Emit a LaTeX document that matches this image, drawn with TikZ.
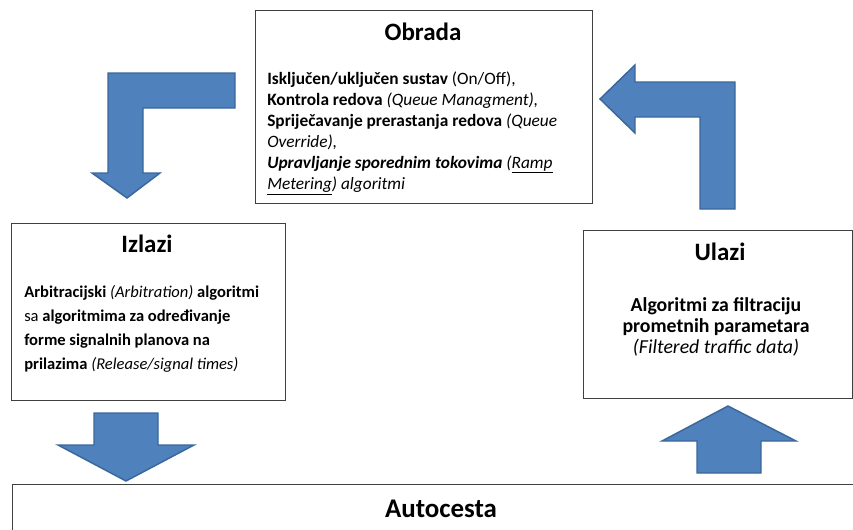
\documentclass[tikz,border=0pt]{standalone}
\usepackage{fontspec}
\setmainfont{Carlito}
\usetikzlibrary{positioning}

\definecolor{arrowblue}{HTML}{4F81BD}
\definecolor{arrowedge}{HTML}{3A679C}
\definecolor{boxedge}{HTML}{404040}

\tikzset{
  box/.style={draw=boxedge, line width=1pt, inner sep=0pt, anchor=north west},
  titletext/.style={font=\bfseries\fontsize{18.75}{22}\selectfont, inner sep=0pt, anchor=base},
  bodytext/.style 2 args={font=\fontsize{#1}{#2}\selectfont, inner sep=0pt},
  blockarrow/.style={fill=arrowblue, draw=arrowedge, line width=1.1pt, line join=miter}
}

\begin{document}
\begin{tikzpicture}[x=0.75pt, y=-0.75pt]
  \useasboundingbox (0,0) rectangle (853,529);
  \clip (0,0) rectangle (853,529);

  % okviri
  \node[box, minimum width=252.75pt, minimum height=144.75pt] (obrada) at (255,10) {};
  \node[box, minimum width=205.5pt, minimum height=132.75pt] (izlazi) at (11,223) {};
  \node[box, minimum width=201.75pt, minimum height=126pt] (ulazi) at (583,230) {};
  \node[box, minimum width=645pt, minimum height=45pt] (autocesta) at (12,484) {};

  % naslovi
  \node[titletext] (obradanaslov) at (423,40) {Obrada};
  \node[titletext] (izlazinaslov) at (147,252) {Izlazi};
  \node[titletext] (ulazinaslov) at (720,260) {Ulazi};
  \node[titletext, font=\bfseries\fontsize{20.2}{24}\selectfont] (autocestanaslov) at (441,517) {Autocesta};

  % tekstovi (base = zadnji redak)
  \node[bodytext={13}{15.75}, align=left, anchor=base west] (obradatekst) at (267,189)
    {\textbf{Isključen/uključen sustav} (On/Off),\\
     \textbf{Kontrola redova} \textit{(Queue Managment),}\\
     \textbf{Spriječavanje prerastanja redova} \textit{(Queue}\\
     \textit{Override),}\\
     \textbf{\textit{Upravljanje sporednim tokovima}} \textit{(\underline{Ramp}}\\
     \textit{\underline{Metering}) algoritmi}};
  \node[bodytext={12.4}{18}, align=left, anchor=base west] (izlazitekst) at (24,369)
    {\textbf{Arbitracijski} \textit{(Arbitration)} \textbf{algoritmi}\\
     sa \textbf{algoritmima za određivanje}\\
     \textbf{forme signalnih planova na}\\
     \textbf{prilazima} \textit{(Release/signal times)}};
  \node[bodytext={14.85}{15.5}, align=center, anchor=base] (ulazitekst) at (716,353)
    {\textbf{Algoritmi za filtraciju}\\
     \textbf{prometnih parametara}\\
     \textit{(Filtered traffic data)}};

  % strelice
  \draw[blockarrow] (235,73) -- (108,73) -- (108,173) -- (92,173) -- (127,198)
    -- (160,173) -- (143,173) -- (143,108) -- (235,108) -- cycle;
  \draw[blockarrow] (735,209) -- (735,82) -- (635,82) -- (635,65) -- (600,99)
    -- (635,133) -- (635,117) -- (700,117) -- (700,209) -- cycle;
  \draw[blockarrow] (94,413) -- (158,413) -- (158,445) -- (194,445) -- (126,481)
    -- (58,445) -- (94,445) -- cycle;
  \draw[blockarrow] (697,473) -- (761,473) -- (761,441) -- (796,441) -- (728,406)
    -- (662,441) -- (697,441) -- cycle;
\end{tikzpicture}
\end{document}
